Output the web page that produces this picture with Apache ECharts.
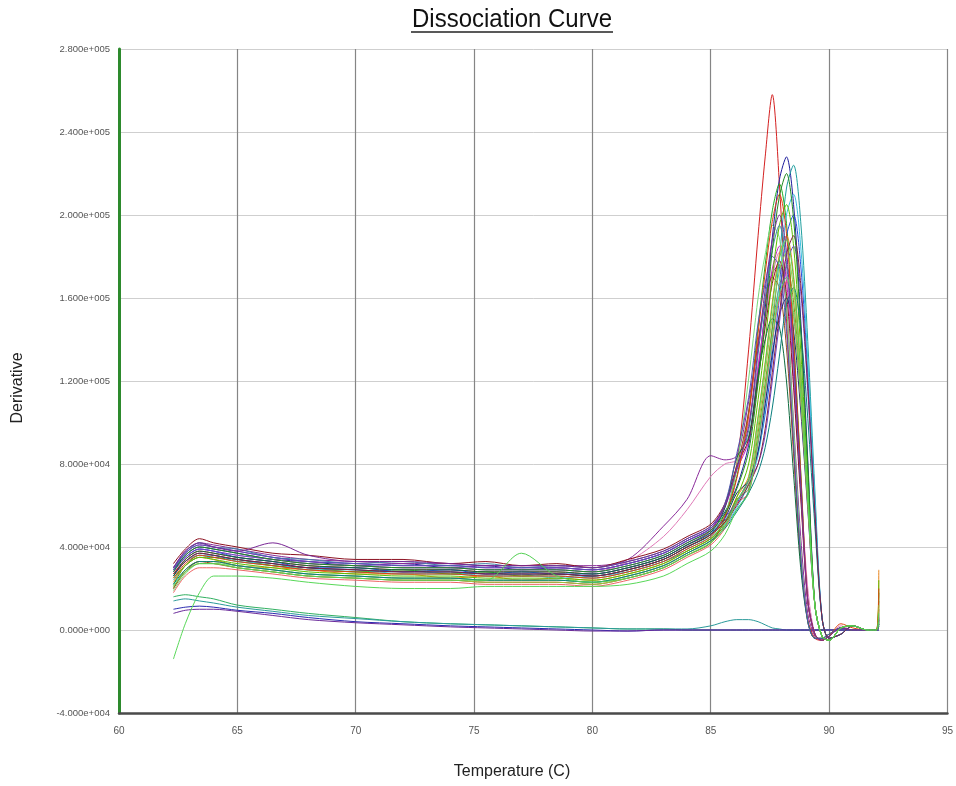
<!DOCTYPE html>
<html>
<head>
<meta charset="utf-8">
<style>
  body,
  html {
    overflow: hidden;
    width: 100%;
    height: 100%;
    margin: 0;
    padding: 0;
    background: #fff;
  }
  .chart-wrapper {
    position: relative;
    width: 956px;
    height: 786px;
  }
</style>
</head>
<body>
<div id="chart-wrapper" class="chart-wrapper"></div>

<script src="https://cdn.jsdelivr.net/npm/echarts@6/dist/echarts.min.js"></script>

<script>
  // temperature steps (C) shared by every well
  const temps = [62.3, 62.8, 63.4, 64, 65, 66.5, 68, 70, 72, 74, 75.5, 77, 78.5, 80, 81.5, 83, 84, 85,
    85.6, 86.1, 86.6, 87, 87.3, 87.6, 87.9, 88.2, 88.5, 88.8, 89.1, 89.4, 89.7, 90, 90.5, 91, 91.6, 92, 92.1];

  // derivative, in thousands, one row per amplified well
  const ampWells = [
    [27,34,38,37,35,33,31,30,29,29,28,28,28,27,30,35,41,48, 60,80,135,190,228,258,215,150,88,35,5,-4,-5,-3,1,0,0,0,4],
    [29,36,40,39,37,34,33,31,32,30,31,29,30,29,32,37,43,49, 57,69,89,123,155,189,217,228,205,150,82,12,-3,-5,1,2,0,0,6],
    [24,31,35,35,33,31,29,28,27,27,26,26,26,25,28,33,38,44, 50,58,67,90,114,146,179,213,224,197,139,67,6,-4,-2,2,0,0,2],
    [22,31,36,35,34,31,30,28,29,27,28,26,27,26,29,34,40,46, 56,74,105,146,176,202,215,196,142,77,14,-2,-5,-3,1,0,0,0,18],
    [30,38,42,41,39,36,34,33,32,32,31,31,31,31,34,50,63,84, 82,84,110,138,158,172,176,155,100,45,8,-3,-5,-3,1,0,0,0,3],
    [28,35,39,38,36,34,32,31,30,30,29,29,29,28,33,45,58,74, 80,82,100,128,150,170,182,172,130,70,20,-2,-5,-3,2,0,0,0,5],
    [23,31,35,34,31,30,29,27,27,25,26,24,25,24,27,32,38,44, 52,64,74,103,129,158,181,190,171,125,68,12,-3,-5,1,2,0,0,29],
    [20,29,33,33,31,29,27,26,25,25,24,24,24,23,26,31,37,43, 51,63,68,95,119,145,166,175,158,116,63,12,-3,-5,1,2,0,0,14],
    [28,35,39,38,35,33,30,30,28,29,27,28,27,27,30,35,41,47, 53,61,72,86,104,130,160,190,200,176,124,60,6,-4,-2,2,0,0,2],
    [30,37,41,40,38,35,33,32,31,31,30,30,30,29,32,37,43,49, 59,77,91,126,152,174,185,168,122,67,14,-2,-5,-3,1,0,0,0,7],
    [20,28,33,32,30,28,26,25,24,24,23,23,23,22,25,30,36,42, 54,78,105,139,158,170,165,136,85,34,4,-4,-4,-2,1,0,0,0,3],
    [26,33,36,36,33,32,29,29,27,28,26,27,25,26,28,33,39,45, 51,59,70,84,107,137,168,200,210,185,130,63,6,-4,-2,2,0,0,2],
    [19,27,32,32,31,29,27,26,25,25,24,24,24,23,26,31,37,43, 55,79,121,160,181,195,189,156,98,39,4,-4,-4,-2,1,0,0,0,3],
    [26,33,37,36,34,32,30,29,28,28,27,27,27,26,29,34,40,46, 54,66,72,86,109,133,152,160,144,106,58,12,-3,-5,1,2,0,0,3],
    [32,39,44,42,40,37,36,34,34,32,33,31,32,30,34,39,45,51, 61,79,92,121,146,167,178,162,117,64,14,-2,-5,-3,1,0,0,0,10],
    [25,31,35,34,32,30,28,27,26,26,25,25,25,24,27,32,38,44, 52,64,80,111,139,170,195,205,185,135,74,12,-3,-5,1,2,0,0,24],
    [29,35,39,38,36,34,32,31,30,30,29,29,29,28,31,36,42,48, 54,62,72,80,94,120,148,176,185,163,115,56,6,-4,-2,2,0,0,2],
    [26,34,38,37,35,33,31,30,29,29,28,28,28,27,30,35,41,47, 59,83,93,123,140,150,146,120,75,30,4,-4,-4,-2,1,0,0,0,3],
    [18,26,30,30,29,27,25,24,23,23,22,22,22,21,24,29,35,41, 49,61,66,91,114,139,160,168,151,111,60,12,-3,-5,1,2,0,0,6],
    [30,37,42,40,39,35,34,32,33,31,32,30,31,30,33,38,44,50, 60,78,96,133,160,183,195,177,129,70,14,-2,-5,-3,1,0,0,0,4],
    [25,32,36,35,33,31,29,28,27,27,26,26,26,25,28,33,39,45, 55,73,103,143,172,197,210,191,139,76,14,-2,-5,-3,3,1,0,0,20],
    [22,29,33,33,31,29,27,26,25,25,24,24,24,23,26,31,37,43, 49,57,66,76,88,107,132,157,165,145,102,50,6,-4,-2,2,0,0,2],
    [29,37,41,40,38,35,33,32,31,31,30,30,30,29,32,37,43,49, 61,85,112,148,167,180,175,144,90,36,4,-4,-4,-2,1,0,0,0,3],
    [21,28,32,32,30,28,26,25,24,24,23,23,23,22,25,30,36,42, 50,62,71,98,124,151,173,182,164,120,66,12,-3,-5,1,2,0,0,12],
    [27,33,37,36,34,32,30,29,28,28,27,27,27,26,29,34,40,46, 52,60,70,80,97,124,152,181,190,167,118,57,6,-4,-2,2,0,0,2],
    [28,36,40,39,37,34,32,31,30,30,29,29,29,28,31,36,42,48, 56,68,86,119,150,183,209,220,198,145,79,12,-3,-5,1,2,0,0,5],
    [30,38,42,40,38,42,36,33,33,32,31,31,31,30,33,38,44,50, 60,78,98,136,164,188,200,182,132,72,14,-2,-5,-3,1,0,0,0,5],
    [21,28,32,32,30,28,26,25,24,24,24,37,26,23,25,30,36,42, 50,62,73,102,128,156,179,188,169,124,68,12,-3,-5,1,2,0,0,8],
    [-14,3,18,26,26,25,23,21,20,20,21,21,21,21,22,26,32,38, 46,58,66,92,116,141,162,170,153,112,61,12,-3,-5,1,2,0,0,4]
  ];

  // wells that never amplified (thousands)
  const flatWells = [
    [16,17,16,15,12,10,8,6,4,3,2.5,2,1.5,1,0.5,0.5,0,0, 0,0,0,0,0,0,0,0,0,0,0,0,0,0,0,0,0,0,0],
    [14,15,14,13,11,9,7,5.5,4,3,2.5,2,1.5,1,0.5,0.5,0.5,2, 4,5,5,4,2.5,1,0.5,0,0,0,0,0,0,0,0,0,0,0,0],
    [10,11,11.5,11,9.5,8,6,4,3,2,1.5,1,0.5,0,-0.5,0,0,0, 0,0,0,0,0,0,0,0,0,0,0,0,0,0,0,0,0,0,0],
    [8,9.5,10,10,9,7,5,3.5,2.5,1.5,1,0.5,0,-0.5,-0.5,0,0,0, 0,0,0,0,0,0,0,0,0,0,0,0,0,0,0,0,0,0,0]
  ];

  const ampColors = ['#d42020', '#1c1c9c', '#1f9f9f', '#22b022', '#8a2a9a', '#e07ab8', '#e8841a', '#8c8c1c',
    '#2a4ee0', '#c41fc4', '#9c4a1c', '#3cc0e0', '#7ada7a', '#1a2a6a', '#8c1020', '#5cc000', '#6a44c8',
    '#0e6a3e', '#ee6464', '#3e82a6', '#e04010', '#0a7e7e', '#5252b4', '#a2c23e', '#842244', '#228a22',
    '#7a2896', '#52d052', '#58d858'];
  const flatColors = ['#30b060', '#2a9a9a', '#2a2ab0', '#6a2a9a'];

  const yTicks = (v) => {
    // 2.800e+005 style
    const parts = v.toExponential(3).split('e');
    return parts[0] + 'e' + parts[1][0] + parts[1].slice(1).padStart(3, '0');
  };

  const makeSeries = (rows, colors) =>
    rows.map((row, i) => ({
      type: 'line',
      showSymbol: false,
      smooth: 0.3,
      silent: true,
      lineStyle: { width: 1, color: colors[i % colors.length] },
      data: temps.map((t, j) => [t, row[j] * 1000]),
    }));

  const seriesList = [...makeSeries(flatWells, flatColors), ...makeSeries(ampWells, ampColors)];

  const chart = echarts.init(document.getElementById('chart-wrapper'));
  chart.setOption({
    animation: false,
    backgroundColor: '#fff',
    grid: { left: 119, right: 6, top: 49, bottom: 73 },
    xAxis: {
      type: 'value',
      min: 60,
      max: 95,
      interval: 5,
      axisLine: { onZero: false, lineStyle: { color: '#4a4a4a', width: 2.5 } },
      axisTick: { show: false },
      axisLabel: { margin: 13, fontSize: 10, color: '#555', fontFamily: 'Liberation Sans' },
      splitLine: { lineStyle: { color: '#858585', width: 1.2 } },
    },
    yAxis: {
      type: 'value',
      min: -40000,
      max: 280000,
      interval: 40000,
      axisLine: { show: true, onZero: false, lineStyle: { color: '#2d8a2d', width: 3 } },
      axisTick: { show: false },
      axisLabel: { margin: 9, fontSize: 9.5, color: '#555', fontFamily: 'Liberation Sans', formatter: yTicks },
      splitLine: { lineStyle: { color: '#cfcfcf' } },
    },
    graphic: [
      {
        type: 'text',
        x: 512,
        y: 20,
        scaleY: 1.06,
        style: {
          text: 'Dissociation Curve',
          fontSize: 24,
          fontFamily: 'Liberation Sans',
          fill: '#111',
          align: 'center',
          verticalAlign: 'middle',
        },
      },
      {
        type: 'line',
        shape: { x1: 411, y1: 32, x2: 613, y2: 32 },
        style: { stroke: '#222', lineWidth: 1.5 },
      },
      {
        type: 'text',
        x: 512,
        y: 772,
        style: {
          text: 'Temperature (C)',
          fontSize: 16,
          fontFamily: 'Liberation Sans',
          fill: '#222',
          align: 'center',
          verticalAlign: 'middle',
        },
      },
      {
        type: 'text',
        x: 18,
        y: 388,
        rotation: Math.PI / 2,
        style: {
          text: 'Derivative',
          fontSize: 16,
          fontFamily: 'Liberation Sans',
          fill: '#222',
          align: 'center',
          verticalAlign: 'middle',
        },
      },
    ],
    series: seriesList,
  });
</script>
</body>
</html>
